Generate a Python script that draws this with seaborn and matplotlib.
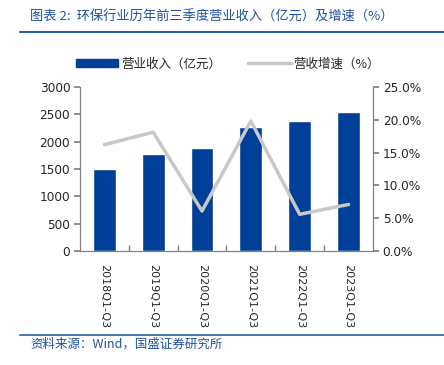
import numpy as np
import pandas as pd
import matplotlib
matplotlib.use("Agg")
import matplotlib.pyplot as plt
import matplotlib.ticker as mtick
import seaborn as sns

periods = ["2018Q1-Q3", "2019Q1-Q3", "2020Q1-Q3", "2021Q1-Q3", "2022Q1-Q3", "2023Q1-Q3"]
revenue = [1500, 1775, 1880, 2265, 2380, 2550]
growth = [16.2, 18.1, 6.1, 19.8, 5.6, 7.1]

title = "图表 2:  环保行业历年前三季度营业收入（亿元）及增速（%）"
source = "资料来源：Wind，国盛证券研究所"
bar_label = "营业收入（亿元）"
line_label = "营收增速（%）"

BLUE = "#003f98"
GRAY = "#c8c8c8"
TXTBLUE = "#2050a0"
CJK = ["Noto Sans CJK SC", "DejaVu Sans"]

sns.set_theme(style="white")
plt.rcParams["font.family"] = ["DejaVu Sans", "Noto Sans CJK SC"]

df = pd.DataFrame({"period": periods, "revenue": revenue, "growth": growth})

fig = plt.figure(figsize=(4.44, 3.65), dpi=100)
ax = fig.add_axes([0.180, 0.312, 0.660, 0.450])
sns.barplot(data=df, x="period", y="revenue", color=BLUE, width=0.47,
            saturation=1, ax=ax)
ax2 = ax.twinx()
ax2.plot(np.arange(len(periods)), df["growth"], color=GRAY, lw=2.5, label=line_label)

ax.set_ylim(0, 3000)
ax.set_yticks(range(0, 3001, 500))
ax2.set_ylim(0, 25)
ax2.set_yticks(np.arange(0, 25.1, 5))
ax2.yaxis.set_major_formatter(mtick.FuncFormatter(lambda v, _: f"{v:.1f}%"))
ax.set_xlim(-0.5, len(periods) - 0.5)
ax.set_xlabel("")
ax.set_ylabel("")
ax.set_xticks(range(len(periods)))
ax.set_xticklabels(periods, rotation=-90, fontsize=8)
ax.xaxis.set_minor_locator(mtick.FixedLocator(np.arange(0.5, len(periods) - 0.5, 1)))

for a in (ax, ax2):
    for s in a.spines.values():
        s.set_color("#808080")
        s.set_linewidth(0.8)
    a.spines["top"].set_visible(False)
ax.tick_params(axis="y", which="major", left=True, length=4, color="#808080", labelsize=8.7, pad=3)
ax2.tick_params(axis="y", which="major", right=True, length=4, color="#808080", labelsize=8.7, pad=3)
ax.tick_params(axis="x", which="major", bottom=False, pad=3)
ax.tick_params(axis="x", which="minor", bottom=True, direction="in", length=4, color="#808080")

bar_handle = plt.Rectangle((0, 0), 1, 1, color=BLUE)
h2, l2 = ax2.get_legend_handles_labels()
fig.legend([bar_handle] + h2, [bar_label] + l2, loc="center", bbox_to_anchor=(0.513, 0.825), ncol=2,
           frameon=False, handlelength=3.4, handleheight=0.7, handletextpad=0.2, columnspacing=2.2,
           prop={"family": CJK, "size": 9})

fig.text(0.068, 0.952, title, color=TXTBLUE, fontsize=9.5, style="italic",
         family=CJK, va="center")
fig.add_artist(plt.Line2D([0.045, 1.0], [0.912, 0.912], color="#2a5caa", lw=1.5))
fig.add_artist(plt.Line2D([0.045, 1.0], [0.083, 0.083], color="#2a5caa", lw=1.2))
fig.text(0.068, 0.058, source, color=TXTBLUE, fontsize=9, style="italic",
         family=CJK, va="center")

fig.savefig("out.png", dpi=100)
